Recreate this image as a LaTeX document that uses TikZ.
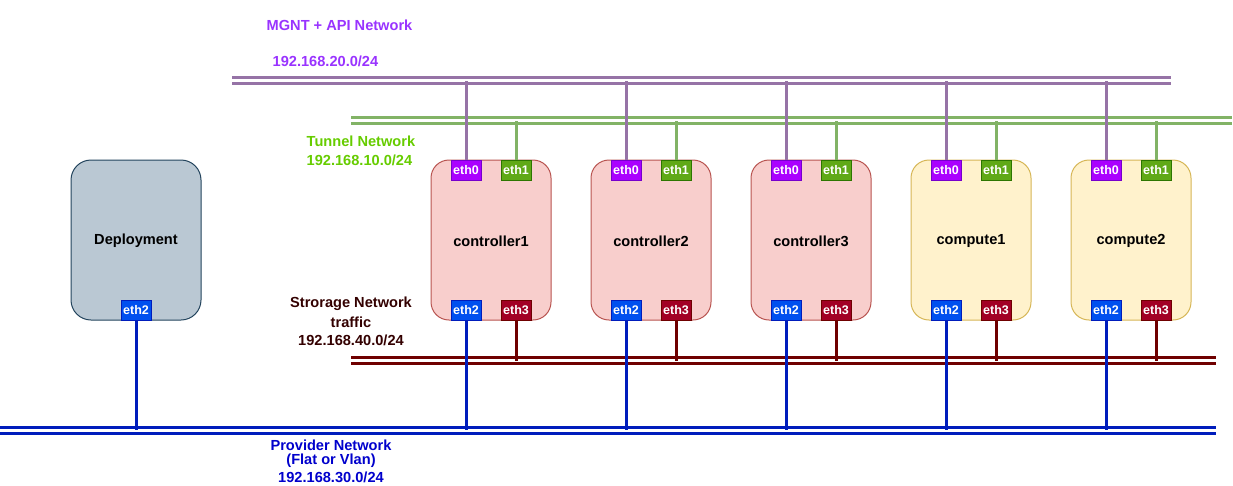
\documentclass[tikz,border=0pt]{standalone}
\usepackage{fontspec}
\setmainfont{Liberation Sans}
\definecolor{mgntc}{HTML}{9673A6}
\definecolor{tunc}{HTML}{82B366}
\definecolor{storc}{HTML}{6F0000}
\definecolor{provc}{HTML}{001DBC}
\definecolor{mgnttxt}{HTML}{9933FF}
\definecolor{tuntxt}{HTML}{66CC00}
\definecolor{stortxt}{HTML}{330000}
\definecolor{provtxt}{HTML}{0000CC}
\definecolor{ctrlfill}{HTML}{F8CECC}
\definecolor{ctrldraw}{HTML}{B85450}
\definecolor{compfill}{HTML}{FFF2CC}
\definecolor{compdraw}{HTML}{D6B656}
\definecolor{depfill}{HTML}{BAC8D3}
\definecolor{depdraw}{HTML}{23445D}
\definecolor{ezfill}{HTML}{AA00FF}
\definecolor{ezdraw}{HTML}{7700CC}
\definecolor{eofill}{HTML}{60A917}
\definecolor{eodraw}{HTML}{2D7600}
\definecolor{etfill}{HTML}{0050EF}
\definecolor{etdraw}{HTML}{001DBC}
\definecolor{ethfill}{HTML}{A20025}
\definecolor{ethdraw}{HTML}{6F0000}
\begin{document}
\begin{tikzpicture}[x=1pt,y=-1pt,
  hostbox/.style={draw, rounded corners=18pt, minimum width=120pt, minimum height=160pt, line width=1pt, inner sep=0pt},
  ctrl/.style={hostbox, fill=ctrlfill, draw=ctrldraw},
  comp/.style={hostbox, fill=compfill, draw=compdraw},
  port/.style={draw, minimum width=30pt, minimum height=20pt, inner sep=0pt, text=white, line width=1pt, font=\fontsize{12.5}{14}\selectfont\bfseries},
  pzero/.style={port, fill=ezfill, draw=ezdraw},
  pone/.style={port, fill=eofill, draw=eodraw},
  ptwo/.style={port, fill=etfill, draw=etdraw},
  pthree/.style={port, fill=ethfill, draw=ethdraw},
  bus/.style={line width=3pt, double=white, double distance=3pt},
  vline/.style={line width=3pt},
  lbl/.style={inner sep=0pt, font=\fontsize{14.6}{17}\selectfont\bfseries},
]
\useasboundingbox (0,0) rectangle (1233,485);

% buses
\coordinate (mgntL) at (232,80.5);
\coordinate (mgntR) at (1171,80.5);
\coordinate (tunL) at (351,120.5);
\coordinate (tunR) at (1232,120.5);
\coordinate (storL) at (351,360.5);
\coordinate (storR) at (1216,360.5);
\coordinate (provL) at (0,430);
\coordinate (provR) at (1216,430);
\draw[bus, mgntc] (mgntL) -- (mgntR);
\draw[bus, tunc] (tunL) -- (tunR);
\draw[bus, storc] (storL) -- (storR);
\draw[bus, provc] (provL) -- (provR);

% labels
\node[lbl, text=mgnttxt, anchor=west] (lm1) at (266.5,25.5) {MGNT + API Network};
\node[lbl, text=mgnttxt, anchor=west] (lm2) at (272.5,61) {192.168.20.0/24};
\node[lbl, text=tuntxt, anchor=west] (lt1) at (306.5,141) {Tunnel Network};
\node[lbl, text=tuntxt, anchor=west] (lt2) at (306.5,160.5) {192.168.10.0/24};
\node[lbl, text=stortxt] (ls1) at (351,304) {Strorage Network};
\node[lbl, text=stortxt] (ls2) at (351,322) {traffic};
\node[lbl, text=stortxt] (ls3) at (351,340) {192.168.40.0/24};
\node[lbl, text=provtxt] (lp1) at (331,445) {Provider Network};
\node[lbl, text=provtxt] (lp2) at (331,461) {(Flat or Vlan)};
\node[lbl, text=provtxt] (lp3) at (331,477) {192.168.30.0/24};

% deployment
\node[hostbox, fill=depfill, draw=depdraw, minimum width=130pt, rounded corners=20pt] (dep) at (136,240) {};
\node[lbl] (dept) at (136,241) {Deployment};
\node[ptwo] (depe2) at (136,310) {eth2};
\draw[vline, provc] (depe2.south) -- (depe2.south |- provL);

% hosts
\foreach \x/\nm/\st [count=\i] in {431/controller1/ctrl, 591/controller2/ctrl, 751/controller3/ctrl, 911/compute1/comp, 1071/compute2/comp} {
  \node[\st] (h\i) at (\x+60,240) {};
  \node[lbl] (h\i t) at (\x+60,241) {\nm};
  \node[pzero] (h\i e0) at (\x+35,170) {eth0};
  \node[pone] (h\i e1) at (\x+85,170) {eth1};
  \node[ptwo] (h\i e2) at (\x+35,310) {eth2};
  \node[pthree] (h\i e3) at (\x+85,310) {eth3};
  \draw[vline, mgntc] (h\i e0.north) -- (h\i e0.north |- mgntL);
  \draw[vline, tunc] (h\i e1.north) -- (h\i e1.north |- tunL);
  \draw[vline, storc] (h\i e3.south) -- (h\i e3.south |- storL);
  \draw[vline, provc] (h\i e2.south) -- (h\i e2.south |- provL);
}
\end{tikzpicture}
\end{document}
